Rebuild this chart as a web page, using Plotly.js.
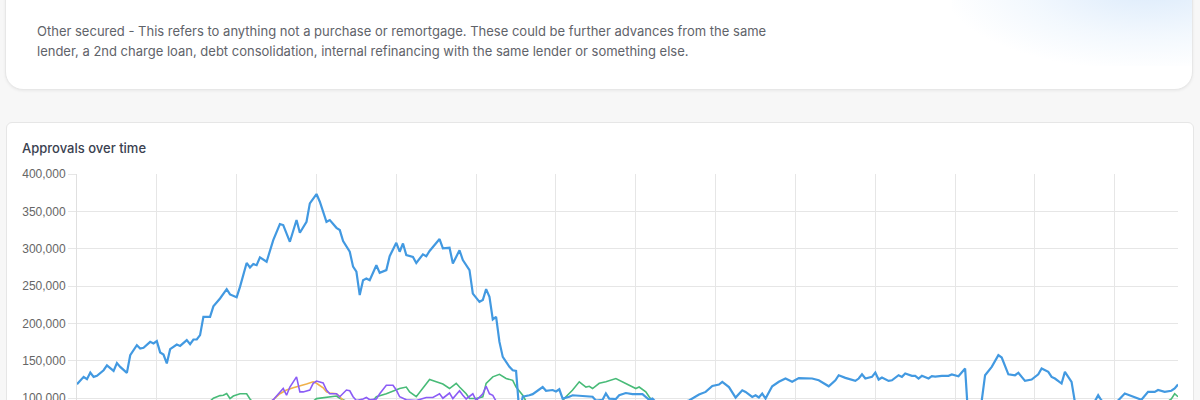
<!DOCTYPE html>
<html>
<head>
<meta charset="utf-8">
<script src="https://cdn.plot.ly/plotly-3.0.1.min.js"></script>
<style>
  html, body { margin:0; padding:0; }
  body { width:1200px; height:400px; overflow:hidden; position:relative; background:#f7f7f7; font-family: Inter, "Noto Sans", sans-serif; }
  .topcard { position:absolute; left:5px; top:-60px; width:1186px; height:148px; background:#fff; border:1px solid #e7e7e7; border-radius:18px; box-shadow:0 1px 3px rgba(0,0,0,0.06); overflow:hidden; }
  .blob { position:absolute; right:-40px; top:0px; width:280px; height:125px; background:radial-gradient(ellipse at 70% 35%, rgba(210,229,250,0.8) 0%, rgba(228,240,252,0.45) 45%, rgba(255,255,255,0) 75%); }
  .desc { position:absolute; left:31px; top:80px; font-size:13px; line-height:20px; color:#5f636a; letter-spacing:0px; white-space:nowrap; }
  .chartcard { position:absolute; left:6px; top:122px; width:1186px; height:400px; background:#fff; border:1px solid #e6e6e6; border-radius:6px; }
  .title { position:absolute; left:22px; top:139px; font-size:13px; line-height:18px; font-weight:500; color:#3a4150; }
  #plot { position:absolute; left:0; top:150px; width:1200px; height:360px; }
</style>
</head>
<body>
<div class="topcard">
  <div class="blob"></div>
  <div class="desc">Other secured - This refers to anything not a purchase or remortgage. These could be further advances from the same<br>lender, a 2nd charge loan, debt consolidation, internal refinancing with the same lender or something else.</div>
</div>
<div class="chartcard"></div>
<div class="title">Approvals over time</div>
<div id="plot"></div>
<script>
// Month index 0 = Jan 1998, 331 = Aug 2025
const startYear = 1998;
const lastMonth = 331;

const blueMonths = [0,2,3,4,5,6,8,9,11,12,13,15,16,18,19,20,22,23,24,25,26,27,28,30,31,33,34,35,36,37,38,40,41,43,45,46,48,49,51,52,53,54,55,57,59,61,62,64,66,67,69,70,72,73,75,76,78,79,80,82,83,84,85,86,87,88,90,91,93,94,96,97,98,99,101,102,104,105,106,107,109,110,112,113,115,116,118,119,121,122,123,124,125,126,127,128,130,131,132,133,134,136,137,140,141,143,144,145,146,148,149,152,155,156,158,159,160,162,163,165,167,170,171,172,173,174,178,181,184,187,189,191,193,194,196,198,200,201,203,204,205,206,207,209,211,213,215,217,221,223,226,228,229,231,234,235,236,237,239,240,241,242,244,245,247,248,249,251,252,253,254,256,257,258,260,262,263,265,267,268,270,272,273,275,277,278,280,282,283,285,287,289,290,292,293,294,296,297,299,300,303,306,307,308,311,313,315,318,320,322,324,325,327,329,330,331];
const blueValues = [118800,128600,125500,134400,128600,130000,137500,144000,136600,147000,142000,134000,157600,171000,166600,167500,175500,173300,176500,161300,158500,146500,165600,171900,170000,177700,172300,178600,178600,184400,208900,208900,223000,233500,246000,238900,235000,249000,281000,275000,279500,278000,288400,282600,311600,333000,331700,309300,338400,321400,336100,360700,373200,362900,336000,338400,328000,325000,310300,296000,276000,269200,238000,258000,260300,258000,278000,267800,271400,290000,308000,296000,307000,291500,289000,281000,292500,290000,297000,302600,313000,300500,301300,280400,298000,284800,271400,240000,229000,231300,246000,235700,205400,208900,175400,155300,142000,137500,136600,80000,102000,104000,105500,115000,110000,111000,109000,112000,99500,102000,104000,103000,102000,97000,98000,106500,99500,99000,104000,107000,105500,105500,102000,98000,99500,95000,92000,93000,97000,105000,108500,116500,118400,122000,115000,100900,110700,108500,101800,104000,101000,106300,99600,116000,122000,126400,122000,127000,126400,124000,116000,124000,130800,127300,123200,126400,132000,126400,128600,134400,125000,127700,123200,124000,130800,128600,133000,130000,130000,126400,130000,126400,129500,129000,130000,130000,131800,129500,139800,70000,45000,97000,130800,142000,157600,154500,132000,130800,134000,123200,125000,132000,139800,135300,128600,126400,119700,135300,122000,95000,88000,96000,104000,97000,92000,97000,106300,101000,98000,108500,108500,111000,108500,110000,113000,118400];

const greenMonths = [40,41,43,44,45,46,47,49,51,52,53,71,72,74,76,78,79,81,89,90,93,96,97,99,100,102,104,106,108,110,112,114,115,117,118,120,122,123,125,127,129,131,132,134,135,146,147,149,151,153,154,155,157,159,162,164,166,168,169,171,172,173,328,329,330,331];
const greenValues = [96000,100000,103500,104000,106300,99600,103000,106000,106000,99000,94000,96000,99500,101000,102000,103000,100000,96000,97000,102000,106000,111000,113000,115000,108500,102000,113000,125000,122000,119000,113000,120000,115000,106000,99600,99600,102000,120000,128600,132000,126400,124000,115000,104000,96000,97000,102000,111000,122000,115000,116000,113000,120000,122000,126400,122000,117400,113000,115000,108500,102000,96000,96000,99000,106000,102000];

const purpleMonths = [58,59,62,63,64,66,67,68,70,71,72,74,75,76,78,79,81,82,83,84,86,87,88,90,91,93,95,96,97,99,102,105,107,109,110,112,113,115,116,117,119,120,122,123,124,125,126,127];
const purpleValues = [95000,98000,113000,104000,115000,128600,108500,108500,111000,120000,123000,120500,111000,106000,106000,102000,111000,110000,102000,97000,99000,101000,98000,99000,106000,117400,117400,111000,102000,98000,97000,101000,101000,106000,100000,107000,99500,110000,104000,99000,106000,97000,106000,116000,106000,104000,96000,92000];

const orangeMonths = [58,59,61,63,65,67,69,71,72,74,75,76,78,79,80,81];
const orangeValues = [95000,98000,106000,111000,114000,116000,119000,122000,120000,114000,108500,107000,106000,102000,97000,94000];

const tickMonths = [];
const tickLabels = [];
for (let m = 0; m <= lastMonth; m += 24) {
  tickMonths.push(m);
  tickLabels.push('Jan ' + (startYear + Math.floor(m / 12)));
}

function line(x, y, color, width) {
  return { type:'scatter', mode:'lines', x:x, y:y, line:{color:color, width:width}, hoverinfo:'skip', showlegend:false };
}

const data = [
  line(greenMonths, greenValues, '#48bb78', 1.6),
  line(orangeMonths, orangeValues, '#f0b14a', 1.6),
  line(purpleMonths, purpleValues, '#8b5cf6', 1.6),
  line(blueMonths, blueValues, '#4299e1', 2.2)
];

const layout = {
  width:1200, height:360,
  margin:{l:77, r:22, t:24, b:37, pad:0},
  paper_bgcolor:'rgba(0,0,0,0)', plot_bgcolor:'rgba(0,0,0,0)',
  font:{family:'"Liberation Sans", Arial, sans-serif', size:12, color:'#666'},
  xaxis:{ range:[0, lastMonth], tickmode:'array', tickvals:tickMonths, ticktext:tickLabels,
          showgrid:true, gridcolor:'#e6e6e6', gridwidth:1, zeroline:false, showline:false,
          ticks:'outside', ticklen:8, tickcolor:'#e6e6e6', fixedrange:true },
  yaxis:{ range:[0, 400000], dtick:50000, tick0:0, tickformat:',', showgrid:true, gridcolor:'#e6e6e6', gridwidth:1,
          zeroline:false, showline:true, linecolor:'#e0e0e0', linewidth:1,
          ticks:'outside', ticklen:8, tickcolor:'#e6e6e6', tickfont:{size:12, color:'#666'}, fixedrange:true }
};

Plotly.newPlot('plot', data, layout, {staticPlot:true, displayModeBar:false});
</script>
</body>
</html>
